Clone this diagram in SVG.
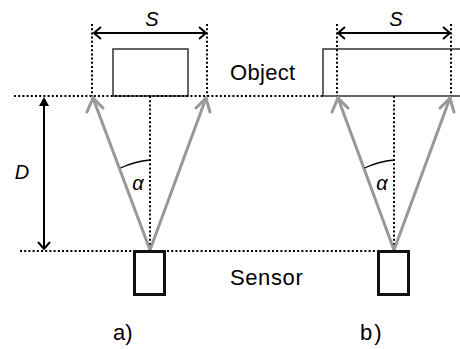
<svg xmlns="http://www.w3.org/2000/svg" width="460" height="349" viewBox="0 0 460 349">
<style>
.dot{stroke:#000;stroke-width:2;stroke-dasharray:2 2.2;fill:none}
.obj{fill:#fff;stroke:#333;stroke-width:1.5}
.sen{fill:#fff;stroke:#111;stroke-width:3}
.ray{stroke:#999;stroke-width:3;fill:none;stroke-linecap:round}
.dim{stroke:#000;stroke-width:2;fill:none}
.t{font-family:"Liberation Sans",Arial,sans-serif;font-size:22px;fill:#000}
.i{font-style:italic;font-size:20px}
</style>
<g id="object-a"><rect class="obj" x="113" y="49" width="75" height="47"/></g>
<g id="object-b"><path class="obj" d="M461 49 H323 V96 H461"/></g>
<g id="guides">
<line class="dot" x1="14" y1="96" x2="323" y2="96"/>
<line class="dot" x1="20" y1="251" x2="378" y2="251"/>
<line class="dot" x1="92" y1="24" x2="92" y2="96"/>
<line class="dot" x1="207" y1="24" x2="207" y2="96"/>
<line class="dot" x1="150" y1="96" x2="150" y2="251"/>
<line class="dot" x1="337" y1="24" x2="337" y2="96"/>
<line class="dot" x1="451" y1="24" x2="451" y2="96"/>
<line class="dot" x1="394" y1="96" x2="394" y2="251"/>
</g>
<g id="connectors">
<line class="ray" x1="150" y1="250" x2="93" y2="98"/>
<polyline class="ray" points="87,112 93,98 103,108"/>
<line class="ray" x1="150" y1="250" x2="206" y2="98"/>
<polyline class="ray" points="196,108 206,98 210,112"/>
<line class="ray" x1="394" y1="250" x2="338" y2="98"/>
<polyline class="ray" points="332,112 338,98 348,108"/>
<line class="ray" x1="394" y1="250" x2="450" y2="98"/>
<polyline class="ray" points="440,108 450,98 454,112"/>
<line class="dim" x1="94" y1="33" x2="206" y2="33"/>
<polyline class="dim" points="101,27 94,33 101,39"/>
<polyline class="dim" points="199,27 206,33 199,39"/>
<line class="dim" x1="338" y1="33" x2="450" y2="33"/>
<polyline class="dim" points="345,27 338,33 345,39"/>
<polyline class="dim" points="443,27 450,33 443,39"/>
<line class="dim" x1="44" y1="102" x2="44" y2="249"/>
<polygon points="44,97 39,106 49,106" fill="#000"/>
<polyline class="dim" points="38,242 44,249 50,242"/>
<path d="M120.5 168 A90 90 0 0 1 150 160" fill="none" stroke="#000" stroke-width="1.3"/>
<path d="M364.5 168 A90 90 0 0 1 394 160" fill="none" stroke="#000" stroke-width="1.3"/>
</g>
<g id="sensor-a"><rect class="sen" x="134.5" y="251.5" width="30" height="43"/></g>
<g id="sensor-b"><rect class="sen" x="378.5" y="251.5" width="30" height="43"/></g>
<g id="labels">
<text class="t i" x="152" y="26" text-anchor="middle">S</text>
<text class="t i" x="396" y="26" text-anchor="middle">S</text>
<text class="t i" x="22" y="179" text-anchor="middle">D</text>
<text class="t i" x="138" y="190" text-anchor="middle">α</text>
<text class="t i" x="382" y="190" text-anchor="middle">α</text>
<text class="t" x="230" y="80" letter-spacing="0.3">Object</text>
<text class="t" x="230" y="285" letter-spacing="0.6">Sensor</text>
<text class="t" x="113" y="340">a)</text>
<text class="t" x="360" y="340" letter-spacing="2">b)</text>
</g>
</svg>
